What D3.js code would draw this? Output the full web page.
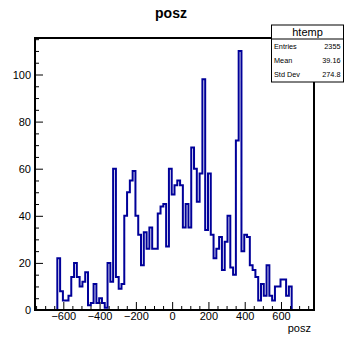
<!DOCTYPE html>
<html>
<head>
<meta charset="utf-8">
<script src="https://cdn.jsdelivr.net/npm/d3@7"></script>
<style>
  html, body { margin: 0; padding: 0; background: #fff; }
  svg { display: block; font-family: "Liberation Sans", Arial, Helvetica, sans-serif; }
</style>
</head>
<body>
<svg id="chart" width="347" height="340"></svg>
<script>
// Histogram of posz: 100 equal bins
const xLow = -756;
const xHigh = 782;
const nBins = 100;
const counts = [
  0, 0, 0, 0, 0, 0, 0, 0,
  22, 8, 4, 4, 6, 14, 20, 14, 10, 12,
  16, 2, 3, 11, 3, 5, 3, 1, 20, 12,
  60, 14, 9, 11, 40, 50, 55, 59, 40, 32,
  19, 33, 26, 35, 26, 26, 41, 44, 45, 27,
  60, 49, 53, 55,
  53, 35, 45, 35, 69, 60, 46, 58, 98, 34,
  58, 32, 22, 26, 31, 17, 29, 40, 18, 15,
  72, 110, 25, 32, 31, 19, 17, 14, 4, 11,
  6, 19, 6, 4, 10, 10, 13, 13, 6, 10,
  0, 0, 0, 0, 0, 0, 0, 0
];
const xTicks = [-600, -400, -200, 0, 200, 400, 600];
const yTicks = [0, 20, 40, 60, 80, 100];
const statsName = "htemp";
const statsRows = [["Entries", "2355"], ["Mean", "39.16"], ["Std Dev", "274.8"]];
const title = "posz";
const xTitle = "posz";

const frame = { left: 35, right: 314, top: 38, bottom: 310 };
const svg = d3.select("#chart");

const binWidth = (xHigh - xLow) / nBins;
const yMax = d3.max(counts) * 1.05;

const x = d3.scaleLinear().domain([xLow, xHigh]).range([frame.left, frame.right]);
const y = d3.scaleLinear().domain([0, yMax]).range([frame.bottom, frame.top]);

// step outline of the histogram
const pts = [[xLow, 0]];
counts.forEach((c, i) => {
  const lo = xLow + i * binWidth;
  pts.push([lo, c], [lo + binWidth, c]);
});
pts.push([xHigh, 0]);

svg.append("path")
  .attr("d", d3.line().x(d => x(d[0])).y(d => y(d[1]))(pts))
  .attr("fill", "none")
  .attr("stroke", "#000099")
  .attr("stroke-width", 2)
  .attr("stroke-linejoin", "miter");

// axes with ticks pointing into the frame
const minorX = d3.range(-750, 751, 50).filter(v => !xTicks.includes(v));
const minorY = d3.range(0, yMax, 5).filter(v => !yTicks.includes(v));

const gx = svg.append("g").attr("transform", `translate(0,${frame.bottom})`);
gx.call(d3.axisBottom(x).tickValues(minorX).tickSize(-4).tickFormat(""));
gx.call(g => g.select(".domain").remove());
const gx2 = svg.append("g").attr("transform", `translate(0,${frame.bottom})`);
gx2.call(d3.axisBottom(x).tickValues(xTicks).tickSize(-8).tickPadding(2)
  .tickFormat(d => d < 0 ? "\u2212" + Math.abs(d) : String(d)));
gx2.call(g => g.select(".domain").remove());

const gy = svg.append("g").attr("transform", `translate(${frame.left},0)`);
gy.call(d3.axisLeft(y).tickValues(minorY).tickSize(-4).tickFormat(""));
gy.call(g => g.select(".domain").remove());
const gy2 = svg.append("g").attr("transform", `translate(${frame.left},0)`);
gy2.call(d3.axisLeft(y).tickValues(yTicks).tickSize(-8).tickPadding(4));
gy2.call(g => g.select(".domain").remove());

svg.selectAll(".tick line").attr("stroke", "#000").attr("stroke-width", 1);
svg.selectAll(".tick text")
  .attr("fill", "#000")
  .style("font-size", "11px")
  .style("font-family", "'Liberation Sans', Arial, sans-serif");

// frame
svg.append("rect")
  .attr("x", frame.left).attr("y", frame.top)
  .attr("width", frame.right - frame.left)
  .attr("height", frame.bottom - frame.top)
  .attr("fill", "none")
  .attr("stroke", "#000")
  .attr("stroke-width", 2);

// title and axis title
svg.append("text")
  .attr("x", 171).attr("y", 17.5)
  .attr("text-anchor", "middle")
  .style("font-size", "14px")
  .style("font-weight", "bold")
  .text(title);

svg.append("text")
  .attr("x", frame.right - 3).attr("y", 331.5)
  .attr("text-anchor", "end")
  .style("font-size", "11px")
  .text(xTitle);

// statistics box
const box = { x: 271.5, y: 25, w: 72, h: 57, head: 14 };
const sb = svg.append("g");
sb.append("rect")
  .attr("x", box.x).attr("y", box.y).attr("width", box.w).attr("height", box.h)
  .attr("fill", "#fff").attr("stroke", "#000").attr("stroke-width", 1);
sb.append("line")
  .attr("x1", box.x).attr("x2", box.x + box.w)
  .attr("y1", box.y + box.head).attr("y2", box.y + box.head)
  .attr("stroke", "#000").attr("stroke-width", 1);
sb.append("text")
  .attr("x", box.x + box.w / 2).attr("y", box.y + 10.5)
  .attr("text-anchor", "middle")
  .style("font-size", "11px")
  .text(statsName);
const rowH = (box.h - box.head) / statsRows.length;
statsRows.forEach((r, i) => {
  const by = box.y + box.head + rowH * (i + 0.5) + 2.6;
  sb.append("text").attr("x", box.x + 2.5).attr("y", by)
    .style("font-size", "7.3px").text(r[0]);
  sb.append("text").attr("x", box.x + box.w - 3).attr("y", by)
    .attr("text-anchor", "end")
    .style("font-size", "7.3px").text(r[1]);
});
</script>
</body>
</html>
